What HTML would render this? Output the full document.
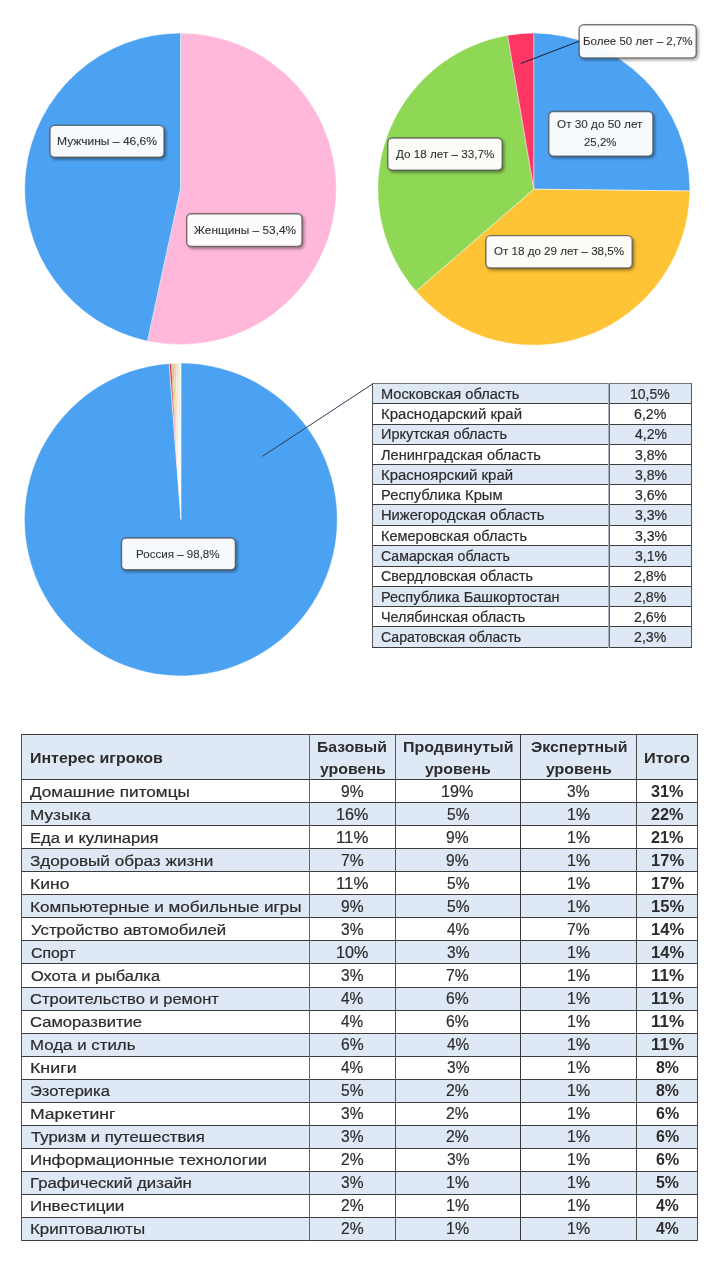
<!DOCTYPE html>
<html lang="ru">
<head>
<meta charset="utf-8">
<title>Аудитория</title>
<style>
html,body{margin:0;padding:0;background:#fff}
body{width:721px;height:1280px;position:relative;overflow:hidden;font-family:"Liberation Sans", sans-serif;color:#262626}
#g{position:absolute;left:0;top:0}
#b div{position:absolute}
#t span{position:absolute;white-space:nowrap;line-height:16px;transform-origin:0 0;color:#2c2c2c;-webkit-text-stroke:0.2px #2c2c2c}
</style>
</head>
<body>
<svg id="g" width="721" height="1280" viewBox="0 0 721 1280">
<defs><radialGradient id="wc" gradientUnits="userSpaceOnUse" cx="180.9" cy="519.5" r="150"><stop offset="0" stop-color="#fff" stop-opacity="0.95"/><stop offset="0.4" stop-color="#fff" stop-opacity="0.85"/><stop offset="0.7" stop-color="#fff" stop-opacity="0.4"/><stop offset="1" stop-color="#fff" stop-opacity="0"/></radialGradient><filter id="sh" x="-10%" y="-20%" width="125%" height="150%"><feDropShadow dx="1.6" dy="1.8" stdDeviation="1.6" flood-color="#000" flood-opacity="0.42"/></filter></defs>
<path d="M180.50,188.90 L180.50,33.50 A155.40,155.40 0 1 1 147.55,340.77 Z" fill="#ffb8d9" stroke="#ffb8d9" stroke-width="0.4"/>
<path d="M180.50,188.90 L147.55,340.77 A155.40,155.40 0 0 1 180.50,33.50 Z" fill="#4ca2f2" stroke="#4ca2f2" stroke-width="0.4"/>
<line x1="180.50" y1="188.90" x2="180.50" y2="33.50" stroke="#ffffff" stroke-opacity="0.75" stroke-width="0.9"/>
<line x1="180.50" y1="188.90" x2="147.55" y2="340.77" stroke="#ffffff" stroke-opacity="0.75" stroke-width="0.9"/>
<path d="M533.80,189.20 L533.80,33.60 A155.60,155.60 0 0 1 689.39,190.91 Z" fill="#4ca2f2" stroke="#4ca2f2" stroke-width="0.4"/>
<path d="M533.80,189.20 L689.39,190.91 A155.60,155.60 0 0 1 416.21,291.10 Z" fill="#fec435" stroke="#fec435" stroke-width="0.4"/>
<path d="M533.80,189.20 L416.21,291.10 A155.60,155.60 0 0 1 507.56,35.83 Z" fill="#8fd855" stroke="#8fd855" stroke-width="0.4"/>
<path d="M533.80,189.20 L507.56,35.83 A155.60,155.60 0 0 1 533.80,33.60 Z" fill="#fd3664" stroke="#fd3664" stroke-width="0.4"/>
<line x1="533.80" y1="189.20" x2="533.80" y2="33.60" stroke="#ffffff" stroke-opacity="0.75" stroke-width="0.9"/>
<line x1="533.80" y1="189.20" x2="689.39" y2="190.91" stroke="#ffffff" stroke-opacity="0.75" stroke-width="0.9"/>
<line x1="533.80" y1="189.20" x2="416.21" y2="291.10" stroke="#ffffff" stroke-opacity="0.75" stroke-width="0.9"/>
<line x1="533.80" y1="189.20" x2="507.56" y2="35.83" stroke="#ffffff" stroke-opacity="0.75" stroke-width="0.9"/>
<path d="M180.90,519.50 L180.90,363.50 A156.00,156.00 0 1 1 169.15,363.94 Z" fill="#4ca2f2" stroke="#4ca2f2" stroke-width="0.4"/>
<line x1="180.90" y1="519.50" x2="180.90" y2="363.50" stroke="#ffffff" stroke-opacity="0" stroke-width="0.0"/>
<path d="M180.90,519.50 L169.15,363.94 A156.00,156.00 0 0 1 171.10,363.81 Z" fill="#d23a55"/>
<path d="M180.90,519.50 L171.10,363.81 A156.00,156.00 0 0 1 172.18,363.74 Z" fill="#f3a882"/>
<path d="M180.90,519.50 L172.18,363.74 A156.00,156.00 0 0 1 173.75,363.66 Z" fill="#c3d66e"/>
<path d="M180.90,519.50 L173.75,363.66 A156.00,156.00 0 0 1 175.71,363.59 Z" fill="#f6cdb0"/>
<path d="M180.90,519.50 L175.71,363.59 A156.00,156.00 0 0 1 178.06,363.53 Z" fill="#e6e6ea"/>
<path d="M180.90,519.50 L178.06,363.53 A156.00,156.00 0 0 1 179.63,363.51 Z" fill="#efe7b4"/>
<path d="M180.90,519.50 L179.63,363.51 A156.00,156.00 0 0 1 180.90,363.50 Z" fill="#ffffff"/>
<line x1="180.90" y1="519.50" x2="169.15" y2="363.94" stroke="#fff" stroke-opacity="0.85" stroke-width="0.8"/>
<line x1="180.90" y1="519.50" x2="180.90" y2="363.50" stroke="#fff" stroke-opacity="0.95" stroke-width="0.8"/>
<path d="M180.90,519.50 L169.60,369.93 A150.00,150.00 0 0 1 180.90,369.50 Z" fill="url(#wc)"/>
<line x1="520.8" y1="63.5" x2="579" y2="41.2" stroke="#1c2a44" stroke-width="1.1"/>
<line x1="262.5" y1="456.3" x2="372.4" y2="384.1" stroke="#2b3a52" stroke-width="1.0"/>
<rect x="50.0" y="125.4" width="114.0" height="31.9" rx="4.5" ry="4.5" fill="#ffffff" fill-opacity="0.95" stroke="#464646" stroke-opacity="0.72" stroke-width="1.4" filter="url(#sh)"/>
<rect x="186.7" y="213.8" width="115.3" height="32.7" rx="4.5" ry="4.5" fill="#ffffff" fill-opacity="0.95" stroke="#464646" stroke-opacity="0.72" stroke-width="1.4" filter="url(#sh)"/>
<rect x="579.2" y="24.7" width="117.0" height="33.2" rx="4.5" ry="4.5" fill="#ffffff" fill-opacity="0.95" stroke="#464646" stroke-opacity="0.72" stroke-width="1.4" filter="url(#sh)"/>
<rect x="548.8" y="111.5" width="104.1" height="44.6" rx="4.5" ry="4.5" fill="#ffffff" fill-opacity="0.95" stroke="#464646" stroke-opacity="0.72" stroke-width="1.4" filter="url(#sh)"/>
<rect x="387.8" y="138.0" width="114.4" height="32.3" rx="4.5" ry="4.5" fill="#ffffff" fill-opacity="0.95" stroke="#464646" stroke-opacity="0.72" stroke-width="1.4" filter="url(#sh)"/>
<rect x="485.9" y="235.6" width="146.3" height="32.4" rx="4.5" ry="4.5" fill="#ffffff" fill-opacity="0.95" stroke="#464646" stroke-opacity="0.72" stroke-width="1.4" filter="url(#sh)"/>
<rect x="121.5" y="538.0" width="113.9" height="31.7" rx="4.5" ry="4.5" fill="#ffffff" fill-opacity="0.95" stroke="#464646" stroke-opacity="0.72" stroke-width="1.4" filter="url(#sh)"/>
</svg>
<div id="b">
<div style="left:372.00px;top:383.00px;width:320.00px;height:20.00px;background:#dfe8f5"></div>
<div style="left:372.00px;top:424.00px;width:320.00px;height:20.00px;background:#dfe8f5"></div>
<div style="left:372.00px;top:464.00px;width:320.00px;height:20.00px;background:#dfe8f5"></div>
<div style="left:372.00px;top:504.00px;width:320.00px;height:21.00px;background:#dfe8f5"></div>
<div style="left:372.00px;top:545.00px;width:320.00px;height:21.00px;background:#dfe8f5"></div>
<div style="left:372.00px;top:586.00px;width:320.00px;height:20.00px;background:#dfe8f5"></div>
<div style="left:372.00px;top:626.00px;width:320.00px;height:21.00px;background:#dfe8f5"></div>
<div style="left:372.00px;top:383.00px;width:320.00px;height:1.00px;background:#777"></div>
<div style="left:372.00px;top:403.00px;width:320.00px;height:1.00px;background:#3c3c3c"></div>
<div style="left:372.00px;top:424.00px;width:320.00px;height:1.00px;background:#3c3c3c"></div>
<div style="left:372.00px;top:444.00px;width:320.00px;height:1.00px;background:#3c3c3c"></div>
<div style="left:372.00px;top:464.00px;width:320.00px;height:1.00px;background:#3c3c3c"></div>
<div style="left:372.00px;top:484.00px;width:320.00px;height:1.00px;background:#3c3c3c"></div>
<div style="left:372.00px;top:504.00px;width:320.00px;height:1.00px;background:#3c3c3c"></div>
<div style="left:372.00px;top:525.00px;width:320.00px;height:1.00px;background:#3c3c3c"></div>
<div style="left:372.00px;top:545.00px;width:320.00px;height:1.00px;background:#3c3c3c"></div>
<div style="left:372.00px;top:566.00px;width:320.00px;height:1.00px;background:#3c3c3c"></div>
<div style="left:372.00px;top:586.00px;width:320.00px;height:1.00px;background:#3c3c3c"></div>
<div style="left:372.00px;top:606.00px;width:320.00px;height:1.00px;background:#3c3c3c"></div>
<div style="left:372.00px;top:626.00px;width:320.00px;height:1.00px;background:#3c3c3c"></div>
<div style="left:372.00px;top:647.00px;width:320.00px;height:1.00px;background:#3c3c3c"></div>
<div style="left:372.00px;top:383.00px;width:1.00px;height:265.00px;background:#555"></div>
<div style="left:608.00px;top:383.00px;width:1.00px;height:265.00px;background:#a9afba"></div>
<div style="left:609.00px;top:383.00px;width:1.00px;height:265.00px;background:#59606b"></div>
<div style="left:691.00px;top:383.00px;width:1.00px;height:265.00px;background:#555"></div>
<div style="left:21.00px;top:734.00px;width:677.00px;height:45.00px;background:#dfe8f5"></div>
<div style="left:21.00px;top:802.00px;width:677.00px;height:23.00px;background:#dfe8f5"></div>
<div style="left:21.00px;top:848.00px;width:677.00px;height:23.00px;background:#dfe8f5"></div>
<div style="left:21.00px;top:894.00px;width:677.00px;height:23.00px;background:#dfe8f5"></div>
<div style="left:21.00px;top:940.00px;width:677.00px;height:23.00px;background:#dfe8f5"></div>
<div style="left:21.00px;top:987.00px;width:677.00px;height:23.00px;background:#dfe8f5"></div>
<div style="left:21.00px;top:1033.00px;width:677.00px;height:23.00px;background:#dfe8f5"></div>
<div style="left:21.00px;top:1079.00px;width:677.00px;height:23.00px;background:#dfe8f5"></div>
<div style="left:21.00px;top:1125.00px;width:677.00px;height:23.00px;background:#dfe8f5"></div>
<div style="left:21.00px;top:1171.00px;width:677.00px;height:23.00px;background:#dfe8f5"></div>
<div style="left:21.00px;top:1217.00px;width:677.00px;height:23.00px;background:#dfe8f5"></div>
<div style="left:21.00px;top:734.00px;width:677.00px;height:1.00px;background:#3c3c3c"></div>
<div style="left:21.00px;top:779.00px;width:677.00px;height:1.00px;background:#3c3c3c"></div>
<div style="left:21.00px;top:802.00px;width:677.00px;height:1.00px;background:#3c3c3c"></div>
<div style="left:21.00px;top:825.00px;width:677.00px;height:1.00px;background:#3c3c3c"></div>
<div style="left:21.00px;top:848.00px;width:677.00px;height:1.00px;background:#3c3c3c"></div>
<div style="left:21.00px;top:871.00px;width:677.00px;height:1.00px;background:#3c3c3c"></div>
<div style="left:21.00px;top:894.00px;width:677.00px;height:1.00px;background:#3c3c3c"></div>
<div style="left:21.00px;top:917.00px;width:677.00px;height:1.00px;background:#3c3c3c"></div>
<div style="left:21.00px;top:940.00px;width:677.00px;height:1.00px;background:#3c3c3c"></div>
<div style="left:21.00px;top:963.00px;width:677.00px;height:1.00px;background:#3c3c3c"></div>
<div style="left:21.00px;top:987.00px;width:677.00px;height:1.00px;background:#3c3c3c"></div>
<div style="left:21.00px;top:1010.00px;width:677.00px;height:1.00px;background:#3c3c3c"></div>
<div style="left:21.00px;top:1033.00px;width:677.00px;height:1.00px;background:#3c3c3c"></div>
<div style="left:21.00px;top:1056.00px;width:677.00px;height:1.00px;background:#3c3c3c"></div>
<div style="left:21.00px;top:1079.00px;width:677.00px;height:1.00px;background:#3c3c3c"></div>
<div style="left:21.00px;top:1102.00px;width:677.00px;height:1.00px;background:#3c3c3c"></div>
<div style="left:21.00px;top:1125.00px;width:677.00px;height:1.00px;background:#3c3c3c"></div>
<div style="left:21.00px;top:1148.00px;width:677.00px;height:1.00px;background:#3c3c3c"></div>
<div style="left:21.00px;top:1171.00px;width:677.00px;height:1.00px;background:#3c3c3c"></div>
<div style="left:21.00px;top:1194.00px;width:677.00px;height:1.00px;background:#3c3c3c"></div>
<div style="left:21.00px;top:1217.00px;width:677.00px;height:1.00px;background:#3c3c3c"></div>
<div style="left:21.00px;top:1240.00px;width:677.00px;height:1.00px;background:#3c3c3c"></div>
<div style="left:21.00px;top:734.00px;width:1.00px;height:507.00px;background:#555"></div>
<div style="left:309.00px;top:734.00px;width:1.00px;height:507.00px;background:#666"></div>
<div style="left:395.00px;top:734.00px;width:1.00px;height:507.00px;background:#555"></div>
<div style="left:520.00px;top:734.00px;width:1.00px;height:507.00px;background:#3a3a3a"></div>
<div style="left:636.00px;top:734.00px;width:1.00px;height:507.00px;background:#4a4a4a"></div>
<div style="left:697.00px;top:734.00px;width:1.00px;height:507.00px;background:#4a4a4a"></div>
</div>
<div id="t">
<span style="left:56.91px;top:133.45px;font-size:11.7px;transform:scaleX(1.0296);-webkit-text-stroke:0.1px #303030;color:#303030">Мужчины – 46,6%</span>
<span style="left:193.54px;top:221.85px;font-size:11.7px;transform:scaleX(1.0132);-webkit-text-stroke:0.1px #303030;color:#303030">Женщины – 53,4%</span>
<span style="left:582.55px;top:32.85px;font-size:11.7px;transform:scaleX(0.9856);-webkit-text-stroke:0.1px #303030;color:#303030">Более 50 лет – 2,7%</span>
<span style="left:557.34px;top:116.25px;font-size:11.7px;transform:scaleX(1.0048);-webkit-text-stroke:0.1px #303030;color:#303030">От 30 до 50 лет</span>
<span style="left:583.73px;top:133.95px;font-size:11.7px;transform:scaleX(0.9771);-webkit-text-stroke:0.1px #303030;color:#303030">25,2%</span>
<span style="left:395.71px;top:146.45px;font-size:11.7px;transform:scaleX(0.9983);-webkit-text-stroke:0.1px #303030;color:#303030">До 18 лет – 33,7%</span>
<span style="left:494.45px;top:243.35px;font-size:11.7px;transform:scaleX(0.9908);-webkit-text-stroke:0.1px #303030;color:#303030">От 18 до 29 лет – 38,5%</span>
<span style="left:136.35px;top:545.85px;font-size:11.7px;transform:scaleX(0.9893);-webkit-text-stroke:0.1px #303030;color:#303030">Россия – 98,8%</span>
<span style="left:380.70px;top:385.85px;font-size:14.0px;transform:scaleX(1.0454)">Московская область</span>
<span style="left:630.43px;top:385.85px;font-size:14.0px;transform:scaleX(1.0016)">10,5%</span>
<span style="left:380.67px;top:406.12px;font-size:14.0px;transform:scaleX(1.0698)">Краснодарский край</span>
<span style="left:634.33px;top:406.12px;font-size:14.0px;transform:scaleX(1.0126)">6,2%</span>
<span style="left:380.71px;top:426.38px;font-size:14.0px;transform:scaleX(1.0333)">Иркутская область</span>
<span style="left:634.73px;top:426.38px;font-size:14.0px;transform:scaleX(0.9999)">4,2%</span>
<span style="left:380.77px;top:446.65px;font-size:14.0px;transform:scaleX(1.0409)">Ленинградская область</span>
<span style="left:634.51px;top:446.65px;font-size:14.0px;transform:scaleX(1.0068)">3,8%</span>
<span style="left:380.67px;top:466.92px;font-size:14.0px;transform:scaleX(1.0668)">Красноярский край</span>
<span style="left:634.51px;top:466.92px;font-size:14.0px;transform:scaleX(1.0068)">3,8%</span>
<span style="left:380.69px;top:487.18px;font-size:14.0px;transform:scaleX(1.0542)">Республика Крым</span>
<span style="left:634.51px;top:487.18px;font-size:14.0px;transform:scaleX(1.0068)">3,6%</span>
<span style="left:380.69px;top:507.45px;font-size:14.0px;transform:scaleX(1.0506)">Нижегородская область</span>
<span style="left:634.51px;top:507.45px;font-size:14.0px;transform:scaleX(1.0068)">3,3%</span>
<span style="left:380.71px;top:527.72px;font-size:14.0px;transform:scaleX(1.0380)">Кемеровская область</span>
<span style="left:634.51px;top:527.72px;font-size:14.0px;transform:scaleX(1.0068)">3,3%</span>
<span style="left:380.68px;top:547.98px;font-size:14.0px;transform:scaleX(1.0079)">Самарская область</span>
<span style="left:634.51px;top:547.98px;font-size:14.0px;transform:scaleX(1.0068)">3,1%</span>
<span style="left:380.67px;top:568.25px;font-size:14.0px;transform:scaleX(1.0220)">Свердловская область</span>
<span style="left:634.34px;top:568.25px;font-size:14.0px;transform:scaleX(1.0124)">2,8%</span>
<span style="left:380.71px;top:588.52px;font-size:14.0px;transform:scaleX(1.0365)">Республика Башкортостан</span>
<span style="left:634.34px;top:588.52px;font-size:14.0px;transform:scaleX(1.0124)">2,8%</span>
<span style="left:380.78px;top:608.78px;font-size:14.0px;transform:scaleX(1.0271)">Челябинская область</span>
<span style="left:634.34px;top:608.78px;font-size:14.0px;transform:scaleX(1.0124)">2,6%</span>
<span style="left:380.68px;top:629.05px;font-size:14.0px;transform:scaleX(1.0073)">Саратовская область</span>
<span style="left:634.34px;top:629.05px;font-size:14.0px;transform:scaleX(1.0124)">2,3%</span>
<span style="left:30.27px;top:784.13px;font-size:15.2px;transform:scaleX(1.1293)">Домашние питомцы</span>
<span style="left:340.92px;top:783.86px;font-size:16.0px;transform:scaleX(0.9769)">9%</span>
<span style="left:441.40px;top:783.86px;font-size:16.0px;transform:scaleX(1.0085)">19%</span>
<span style="left:567.18px;top:783.86px;font-size:16.0px;transform:scaleX(0.9706)">3%</span>
<span style="left:651.23px;top:783.93px;font-size:15.8px;transform:scaleX(1.0245);font-weight:bold;-webkit-text-stroke:0;color:#2c2c2c">31%</span>
<span style="left:30.39px;top:807.14px;font-size:15.2px;transform:scaleX(1.1317)">Музыка</span>
<span style="left:335.82px;top:806.87px;font-size:16.0px;transform:scaleX(1.0085)">16%</span>
<span style="left:446.60px;top:806.87px;font-size:16.0px;transform:scaleX(0.9720)">5%</span>
<span style="left:566.56px;top:806.87px;font-size:16.0px;transform:scaleX(0.9983)">1%</span>
<span style="left:651.04px;top:806.94px;font-size:15.8px;transform:scaleX(1.0306);font-weight:bold;-webkit-text-stroke:0;color:#2c2c2c">22%</span>
<span style="left:30.44px;top:830.15px;font-size:15.2px;transform:scaleX(1.0911)">Еда и кулинария</span>
<span style="left:335.77px;top:829.88px;font-size:16.0px;transform:scaleX(1.0497)">11%</span>
<span style="left:446.49px;top:829.88px;font-size:16.0px;transform:scaleX(0.9769)">9%</span>
<span style="left:566.56px;top:829.88px;font-size:16.0px;transform:scaleX(0.9983)">1%</span>
<span style="left:651.04px;top:829.95px;font-size:15.8px;transform:scaleX(1.0306);font-weight:bold;-webkit-text-stroke:0;color:#2c2c2c">21%</span>
<span style="left:29.84px;top:853.16px;font-size:15.2px;transform:scaleX(1.1277)">Здоровый образ жизни</span>
<span style="left:340.85px;top:852.89px;font-size:16.0px;transform:scaleX(0.9800)">7%</span>
<span style="left:446.49px;top:852.89px;font-size:16.0px;transform:scaleX(0.9769)">9%</span>
<span style="left:566.56px;top:852.89px;font-size:16.0px;transform:scaleX(0.9983)">1%</span>
<span style="left:650.56px;top:852.96px;font-size:15.8px;transform:scaleX(1.0459);font-weight:bold;-webkit-text-stroke:0;color:#2c2c2c">17%</span>
<span style="left:30.36px;top:876.17px;font-size:15.2px;transform:scaleX(1.1522)">Кино</span>
<span style="left:335.77px;top:875.90px;font-size:16.0px;transform:scaleX(1.0497)">11%</span>
<span style="left:446.60px;top:875.90px;font-size:16.0px;transform:scaleX(0.9720)">5%</span>
<span style="left:566.56px;top:875.90px;font-size:16.0px;transform:scaleX(0.9983)">1%</span>
<span style="left:650.56px;top:875.97px;font-size:15.8px;transform:scaleX(1.0459);font-weight:bold;-webkit-text-stroke:0;color:#2c2c2c">17%</span>
<span style="left:30.40px;top:899.18px;font-size:15.2px;transform:scaleX(1.1242)">Компьютерные и мобильные игры</span>
<span style="left:340.92px;top:898.91px;font-size:16.0px;transform:scaleX(0.9769)">9%</span>
<span style="left:446.60px;top:898.91px;font-size:16.0px;transform:scaleX(0.9720)">5%</span>
<span style="left:566.56px;top:898.91px;font-size:16.0px;transform:scaleX(0.9983)">1%</span>
<span style="left:650.56px;top:898.98px;font-size:15.8px;transform:scaleX(1.0459);font-weight:bold;-webkit-text-stroke:0;color:#2c2c2c">15%</span>
<span style="left:31.35px;top:922.19px;font-size:15.2px;transform:scaleX(1.1026)">Устройство автомобилей</span>
<span style="left:341.06px;top:921.92px;font-size:16.0px;transform:scaleX(0.9706)">3%</span>
<span style="left:446.87px;top:921.92px;font-size:16.0px;transform:scaleX(0.9600)">4%</span>
<span style="left:566.97px;top:921.92px;font-size:16.0px;transform:scaleX(0.9800)">7%</span>
<span style="left:650.56px;top:921.99px;font-size:15.8px;transform:scaleX(1.0459);font-weight:bold;-webkit-text-stroke:0;color:#2c2c2c">14%</span>
<span style="left:31.00px;top:945.20px;font-size:15.2px;transform:scaleX(1.0411)">Спорт</span>
<span style="left:335.82px;top:944.93px;font-size:16.0px;transform:scaleX(1.0085)">10%</span>
<span style="left:446.63px;top:944.93px;font-size:16.0px;transform:scaleX(0.9706)">3%</span>
<span style="left:566.56px;top:944.93px;font-size:16.0px;transform:scaleX(0.9983)">1%</span>
<span style="left:650.56px;top:945.00px;font-size:15.8px;transform:scaleX(1.0459);font-weight:bold;-webkit-text-stroke:0;color:#2c2c2c">14%</span>
<span style="left:31.02px;top:968.21px;font-size:15.2px;transform:scaleX(1.0768)">Охота и рыбалка</span>
<span style="left:341.06px;top:967.94px;font-size:16.0px;transform:scaleX(0.9706)">3%</span>
<span style="left:446.42px;top:967.94px;font-size:16.0px;transform:scaleX(0.9800)">7%</span>
<span style="left:566.56px;top:967.94px;font-size:16.0px;transform:scaleX(0.9983)">1%</span>
<span style="left:650.53px;top:968.01px;font-size:15.8px;transform:scaleX(1.0771);font-weight:bold;-webkit-text-stroke:0;color:#2c2c2c">11%</span>
<span style="left:30.06px;top:991.22px;font-size:15.2px;transform:scaleX(1.0867)">Строительство и ремонт</span>
<span style="left:341.30px;top:990.95px;font-size:16.0px;transform:scaleX(0.9600)">4%</span>
<span style="left:446.43px;top:990.95px;font-size:16.0px;transform:scaleX(0.9797)">6%</span>
<span style="left:566.56px;top:990.95px;font-size:16.0px;transform:scaleX(0.9983)">1%</span>
<span style="left:650.53px;top:991.02px;font-size:15.8px;transform:scaleX(1.0771);font-weight:bold;-webkit-text-stroke:0;color:#2c2c2c">11%</span>
<span style="left:30.06px;top:1014.23px;font-size:15.2px;transform:scaleX(1.0923)">Саморазвитие</span>
<span style="left:341.30px;top:1013.96px;font-size:16.0px;transform:scaleX(0.9600)">4%</span>
<span style="left:446.43px;top:1013.96px;font-size:16.0px;transform:scaleX(0.9797)">6%</span>
<span style="left:566.56px;top:1013.96px;font-size:16.0px;transform:scaleX(0.9983)">1%</span>
<span style="left:650.53px;top:1014.03px;font-size:15.8px;transform:scaleX(1.0771);font-weight:bold;-webkit-text-stroke:0;color:#2c2c2c">11%</span>
<span style="left:30.42px;top:1037.24px;font-size:15.2px;transform:scaleX(1.1105)">Мода и стиль</span>
<span style="left:340.85px;top:1036.97px;font-size:16.0px;transform:scaleX(0.9797)">6%</span>
<span style="left:446.87px;top:1036.97px;font-size:16.0px;transform:scaleX(0.9600)">4%</span>
<span style="left:566.56px;top:1036.97px;font-size:16.0px;transform:scaleX(0.9983)">1%</span>
<span style="left:650.53px;top:1037.04px;font-size:15.8px;transform:scaleX(1.0771);font-weight:bold;-webkit-text-stroke:0;color:#2c2c2c">11%</span>
<span style="left:30.34px;top:1060.25px;font-size:15.2px;transform:scaleX(1.1723)">Книги</span>
<span style="left:341.30px;top:1059.98px;font-size:16.0px;transform:scaleX(0.9600)">4%</span>
<span style="left:446.63px;top:1059.98px;font-size:16.0px;transform:scaleX(0.9706)">3%</span>
<span style="left:566.56px;top:1059.98px;font-size:16.0px;transform:scaleX(0.9983)">1%</span>
<span style="left:655.84px;top:1060.05px;font-size:15.8px;transform:scaleX(1.0080);font-weight:bold;-webkit-text-stroke:0;color:#2c2c2c">8%</span>
<span style="left:30.05px;top:1083.26px;font-size:15.2px;transform:scaleX(1.0875)">Эзотерика</span>
<span style="left:341.03px;top:1082.99px;font-size:16.0px;transform:scaleX(0.9720)">5%</span>
<span style="left:446.44px;top:1082.99px;font-size:16.0px;transform:scaleX(0.9793)">2%</span>
<span style="left:566.56px;top:1082.99px;font-size:16.0px;transform:scaleX(0.9983)">1%</span>
<span style="left:655.84px;top:1083.06px;font-size:15.8px;transform:scaleX(1.0080);font-weight:bold;-webkit-text-stroke:0;color:#2c2c2c">8%</span>
<span style="left:30.36px;top:1106.27px;font-size:15.2px;transform:scaleX(1.1559)">Маркетинг</span>
<span style="left:341.06px;top:1106.00px;font-size:16.0px;transform:scaleX(0.9706)">3%</span>
<span style="left:446.44px;top:1106.00px;font-size:16.0px;transform:scaleX(0.9793)">2%</span>
<span style="left:566.56px;top:1106.00px;font-size:16.0px;transform:scaleX(0.9983)">1%</span>
<span style="left:655.76px;top:1106.07px;font-size:15.8px;transform:scaleX(1.0115);font-weight:bold;-webkit-text-stroke:0;color:#2c2c2c">6%</span>
<span style="left:30.52px;top:1129.28px;font-size:15.2px;transform:scaleX(1.0987)">Туризм и путешествия</span>
<span style="left:341.06px;top:1129.01px;font-size:16.0px;transform:scaleX(0.9706)">3%</span>
<span style="left:446.44px;top:1129.01px;font-size:16.0px;transform:scaleX(0.9793)">2%</span>
<span style="left:566.56px;top:1129.01px;font-size:16.0px;transform:scaleX(0.9983)">1%</span>
<span style="left:655.76px;top:1129.08px;font-size:15.8px;transform:scaleX(1.0115);font-weight:bold;-webkit-text-stroke:0;color:#2c2c2c">6%</span>
<span style="left:30.41px;top:1152.29px;font-size:15.2px;transform:scaleX(1.1144)">Информационные технологии</span>
<span style="left:340.86px;top:1152.02px;font-size:16.0px;transform:scaleX(0.9793)">2%</span>
<span style="left:446.63px;top:1152.02px;font-size:16.0px;transform:scaleX(0.9706)">3%</span>
<span style="left:566.56px;top:1152.02px;font-size:16.0px;transform:scaleX(0.9983)">1%</span>
<span style="left:655.76px;top:1152.09px;font-size:15.8px;transform:scaleX(1.0115);font-weight:bold;-webkit-text-stroke:0;color:#2c2c2c">6%</span>
<span style="left:30.42px;top:1175.30px;font-size:15.2px;transform:scaleX(1.1035)">Графический дизайн</span>
<span style="left:341.06px;top:1175.03px;font-size:16.0px;transform:scaleX(0.9706)">3%</span>
<span style="left:446.01px;top:1175.03px;font-size:16.0px;transform:scaleX(0.9983)">1%</span>
<span style="left:566.56px;top:1175.03px;font-size:16.0px;transform:scaleX(0.9983)">1%</span>
<span style="left:655.86px;top:1175.10px;font-size:15.8px;transform:scaleX(1.0072);font-weight:bold;-webkit-text-stroke:0;color:#2c2c2c">5%</span>
<span style="left:30.41px;top:1198.31px;font-size:15.2px;transform:scaleX(1.1187)">Инвестиции</span>
<span style="left:340.86px;top:1198.04px;font-size:16.0px;transform:scaleX(0.9793)">2%</span>
<span style="left:446.01px;top:1198.04px;font-size:16.0px;transform:scaleX(0.9983)">1%</span>
<span style="left:566.56px;top:1198.04px;font-size:16.0px;transform:scaleX(0.9983)">1%</span>
<span style="left:656.11px;top:1198.11px;font-size:15.8px;transform:scaleX(0.9960);font-weight:bold;-webkit-text-stroke:0;color:#2c2c2c">4%</span>
<span style="left:30.41px;top:1221.32px;font-size:15.2px;transform:scaleX(1.1150)">Криптовалюты</span>
<span style="left:340.86px;top:1221.05px;font-size:16.0px;transform:scaleX(0.9793)">2%</span>
<span style="left:446.01px;top:1221.05px;font-size:16.0px;transform:scaleX(0.9983)">1%</span>
<span style="left:566.56px;top:1221.05px;font-size:16.0px;transform:scaleX(0.9983)">1%</span>
<span style="left:656.11px;top:1221.12px;font-size:15.8px;transform:scaleX(0.9960);font-weight:bold;-webkit-text-stroke:0;color:#2c2c2c">4%</span>
<span style="left:30.34px;top:749.73px;font-size:15.2px;transform:scaleX(1.0505);font-weight:bold;-webkit-text-stroke:0;color:#2c2c2c">Интерес игроков</span>
<span style="left:317.45px;top:738.73px;font-size:15.2px;transform:scaleX(1.0340);font-weight:bold;-webkit-text-stroke:0;color:#2c2c2c">Базовый</span>
<span style="left:319.78px;top:760.53px;font-size:15.2px;transform:scaleX(1.0457);font-weight:bold;-webkit-text-stroke:0;color:#2c2c2c">уровень</span>
<span style="left:402.63px;top:738.73px;font-size:15.2px;transform:scaleX(1.0517);font-weight:bold;-webkit-text-stroke:0;color:#2c2c2c">Продвинутый</span>
<span style="left:425.28px;top:760.53px;font-size:15.2px;transform:scaleX(1.0457);font-weight:bold;-webkit-text-stroke:0;color:#2c2c2c">уровень</span>
<span style="left:530.63px;top:738.73px;font-size:15.2px;transform:scaleX(1.0448);font-weight:bold;-webkit-text-stroke:0;color:#2c2c2c">Экспертный</span>
<span style="left:546.18px;top:760.53px;font-size:15.2px;transform:scaleX(1.0457);font-weight:bold;-webkit-text-stroke:0;color:#2c2c2c">уровень</span>
<span style="left:644.42px;top:749.53px;font-size:15.2px;transform:scaleX(1.0718);font-weight:bold;-webkit-text-stroke:0;color:#2c2c2c">Итого</span>
</div>
</body>
</html>
